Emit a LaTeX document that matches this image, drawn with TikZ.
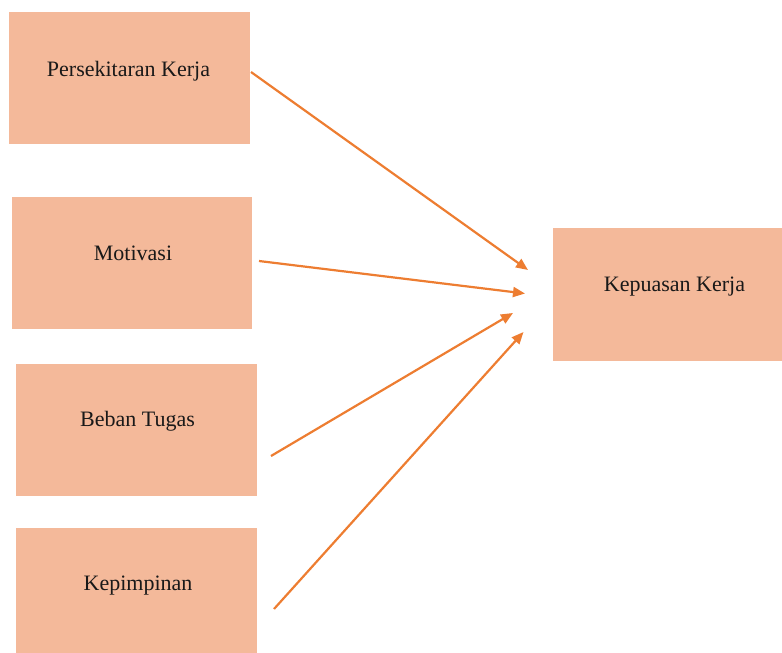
\documentclass[tikz,border=0pt]{standalone}
\usepackage{fontspec}
\setmainfont{Liberation Serif}
\usetikzlibrary{arrows.meta}
\definecolor{boxfill}{HTML}{F4B99A}
\definecolor{linkcol}{HTML}{ED7D31}
\begin{document}
\begin{tikzpicture}[x=1pt,y=-1pt,
  factor/.style={fill=boxfill,draw=none,inner sep=0pt,rectangle},
  caption/.style={font=\fontsize{22}{26}\selectfont,text=black!90,inner sep=0pt},
  link/.style={draw=linkcol,line width=2.2pt,
    -{Triangle[length=12pt,width=10pt]}}]
\useasboundingbox (0,0) rectangle (782,653);

% boxes
\node[factor,minimum width=241pt,minimum height=132pt] (b1) at (129.5,78) {};
\node[factor,minimum width=240pt,minimum height=132pt] (b2) at (132,262.5) {};
\node[factor,minimum width=241pt,minimum height=132pt] (b3) at (136.5,430) {};
\node[factor,minimum width=241pt,minimum height=126pt] (b4) at (136.5,591) {};
\node[factor,minimum width=229pt,minimum height=133pt] (b5) at (667.5,294.5) {};

% labels
\node[caption] (t1) at (128.5,71) {Persekitaran Kerja};
\node[caption] (t2) at (133,253) {Motivasi};
\node[caption] (t3) at (137.5,421) {Beban Tugas};
\node[caption] (t4) at (138,586) {Kepimpinan};
\node[caption] (t5) at (674.5,287) {Kepuasan Kerja};

% connector ends
\coordinate (s1) at (251,72);
\coordinate (s2) at (259,261);
\coordinate (s3) at (271,456);
\coordinate (s4) at (274,609);
\coordinate (e1) at (528,270);
\coordinate (e2) at (525,293.5);
\coordinate (e3) at (513,313);
\coordinate (e4) at (523.5,332);

\draw[link] (s1) -- (e1);
\draw[link] (s2) -- (e2);
\draw[link] (s3) -- (e3);
\draw[link] (s4) -- (e4);
\end{tikzpicture}
\end{document}
